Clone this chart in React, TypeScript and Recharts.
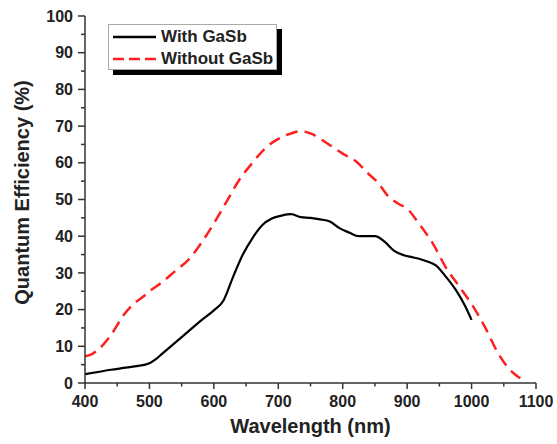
import React from 'react';
import { LineChart, Line, XAxis, YAxis, Legend } from 'recharts';

// wavelength (nm) / quantum efficiency (%)
const withWl = [400, 420, 440, 460, 480, 500, 510, 520, 540, 560, 580, 600, 615, 630, 645, 660, 675, 690, 705, 720, 735, 750, 765, 780, 795, 810, 825, 850, 865, 880, 895, 910, 930, 945, 960, 975, 990, 1000];
const withQe = [2.4, 3.0, 3.6, 4.1, 4.6, 5.4, 6.5, 8.0, 11.0, 14.0, 17.0, 19.8, 22.5, 29, 35, 39.5, 43, 44.8, 45.6, 46, 45.2, 45, 44.6, 44, 42.2, 41, 40, 40, 38.5, 36, 34.8, 34.2, 33.2, 32, 29, 25.5, 21, 17.2];

const withoutWl = [400, 410, 420, 440, 460, 475, 490, 500, 520, 540, 560, 580, 600, 620, 640, 660, 680, 700, 720, 735, 750, 775, 800, 820, 840, 855, 870, 885, 900, 920, 940, 960, 980, 1000, 1020, 1040, 1055, 1070, 1080];
const withoutQe = [7.3, 7.8, 9, 13, 18.5, 21.5, 23.5, 25, 27.5, 30.5, 33.5, 38, 43.5, 49.5, 55.5, 60, 64, 66.5, 68, 68.6, 68, 65.4, 62.5, 60.5, 57, 54.5, 51, 49, 47.5, 43, 38, 31.5, 26.5, 21.5, 15.5, 8.5, 4.5, 2, 0.8];

const xTicks = [400, 450, 500, 550, 600, 650, 700, 750, 800, 850, 900, 950, 1000, 1050, 1100];
const yTicks = [0, 5, 10, 15, 20, 25, 30, 35, 40, 45, 50, 55, 60, 65, 70, 75, 80, 85, 90, 95, 100];

const withData = withWl.map((wl, i) => ({ wl, qe: withQe[i] }));
const withoutData = withoutWl.map((wl, i) => ({ wl, qe: withoutQe[i] }));

const FONT = '"Liberation Sans", Arial, sans-serif';
const AXIS = '#333';
const TEXT = '#222';

const XTick = (props: any) => {
  const { x, y, payload } = props;
  const major = payload.value % 100 === 0;
  return (
    <g>
      <line x1={x} y1={y} x2={x} y2={y + (major ? 6 : 3.5)} stroke={AXIS} strokeWidth={1.5} />
      {major && (
        <text x={x} y={y + 18} dy="0.35em" textAnchor="middle" fill={TEXT}
          style={{ fontFamily: FONT, fontWeight: 'bold', fontSize: 16 }}>
          {payload.value}
        </text>
      )}
    </g>
  );
};

const YTick = (props: any) => {
  const { x, y, payload } = props;
  const major = payload.value % 10 === 0;
  return (
    <g>
      <line x1={x} y1={y} x2={x - (major ? 7 : 4)} y2={y} stroke={AXIS} strokeWidth={1.5} />
      {major && (
        <text x={x - 12} y={y} dy="0.35em" textAnchor="end" fill={TEXT}
          style={{ fontFamily: FONT, fontWeight: 'bold', fontSize: 16 }}>
          {payload.value}
        </text>
      )}
    </g>
  );
};

const YLabel = (props: any) => {
  const vb = props.viewBox || {};
  const cx = vb.x + 7;
  const cy = vb.y + vb.height / 2 - 7;
  return (
    <text x={cx} y={cy} transform={`rotate(-90 ${cx} ${cy})`} textAnchor="middle" dominantBaseline="central"
      fill={TEXT} style={{ fontFamily: FONT, fontWeight: 'bold', fontSize: 20 }}>
      Quantum Efficiency (%)
    </text>
  );
};

const LegendBox = () => (
  <div style={{
    width: 167, height: 44, background: '#fff', border: '1px solid #aaa',
    boxShadow: '5px 5px 0 #000', fontFamily: FONT, fontWeight: 'bold', fontSize: 17, color: TEXT,
    boxSizing: 'content-box',
  }}>
    <div style={{ display: 'flex', alignItems: 'center', height: 22, marginTop: 1 }}>
      <svg width={48} height={10} style={{ marginLeft: 4 }}>
        <line x1={0} y1={5} x2={43} y2={5} stroke="#000" strokeWidth={2.5} />
      </svg>
      <span>With GaSb</span>
    </div>
    <div style={{ display: 'flex', alignItems: 'center', height: 22 }}>
      <svg width={48} height={10} style={{ marginLeft: 4 }}>
        <line x1={0} y1={5} x2={43} y2={5} stroke="#ff1f1f" strokeWidth={2.5} strokeDasharray="11 5" />
      </svg>
      <span>Without GaSb</span>
    </div>
  </div>
);

export default function App() {
  return (
    <div style={{ position: 'absolute', left: 0, top: 0, background: '#fff' }}>
      <LineChart width={557} height={444} margin={{ top: 16, right: 21, bottom: 11, left: 15 }}>
        <XAxis
          dataKey="wl" type="number" domain={[400, 1100]} ticks={xTicks} interval={0}
          allowDuplicatedCategory={false} height={50}
          axisLine={{ stroke: AXIS, strokeWidth: 1.5 }} tickLine={false} tickSize={0} tickMargin={0}
          tick={<XTick />}
          label={{ value: 'Wavelength (nm)', position: 'insideBottom', offset: 0, fill: TEXT,
            style: { fontFamily: FONT, fontWeight: 'bold', fontSize: 20 } }}
        />
        <YAxis
          type="number" domain={[0, 100]} ticks={yTicks} interval={0} width={70}
          axisLine={{ stroke: AXIS, strokeWidth: 1.5 }} tickLine={false} tickSize={0} tickMargin={0}
          tick={<YTick />}
          label={{ content: YLabel }}
        />
        <Legend layout="vertical" align="center" verticalAlign="middle" content={LegendBox}
          wrapperStyle={{ left: 108, top: 24, width: 'auto', height: 'auto' }} />
        <Line data={withData} dataKey="qe" name="With GaSb" type="monotone" stroke="#000"
          strokeWidth={2.2} dot={false} activeDot={false} isAnimationActive={false} />
        <Line data={withoutData} dataKey="qe" name="Without GaSb" type="monotone" stroke="#ff1f1f"
          strokeWidth={2.5} strokeDasharray="12 7" dot={false} activeDot={false} isAnimationActive={false} />
      </LineChart>
    </div>
  );
}
